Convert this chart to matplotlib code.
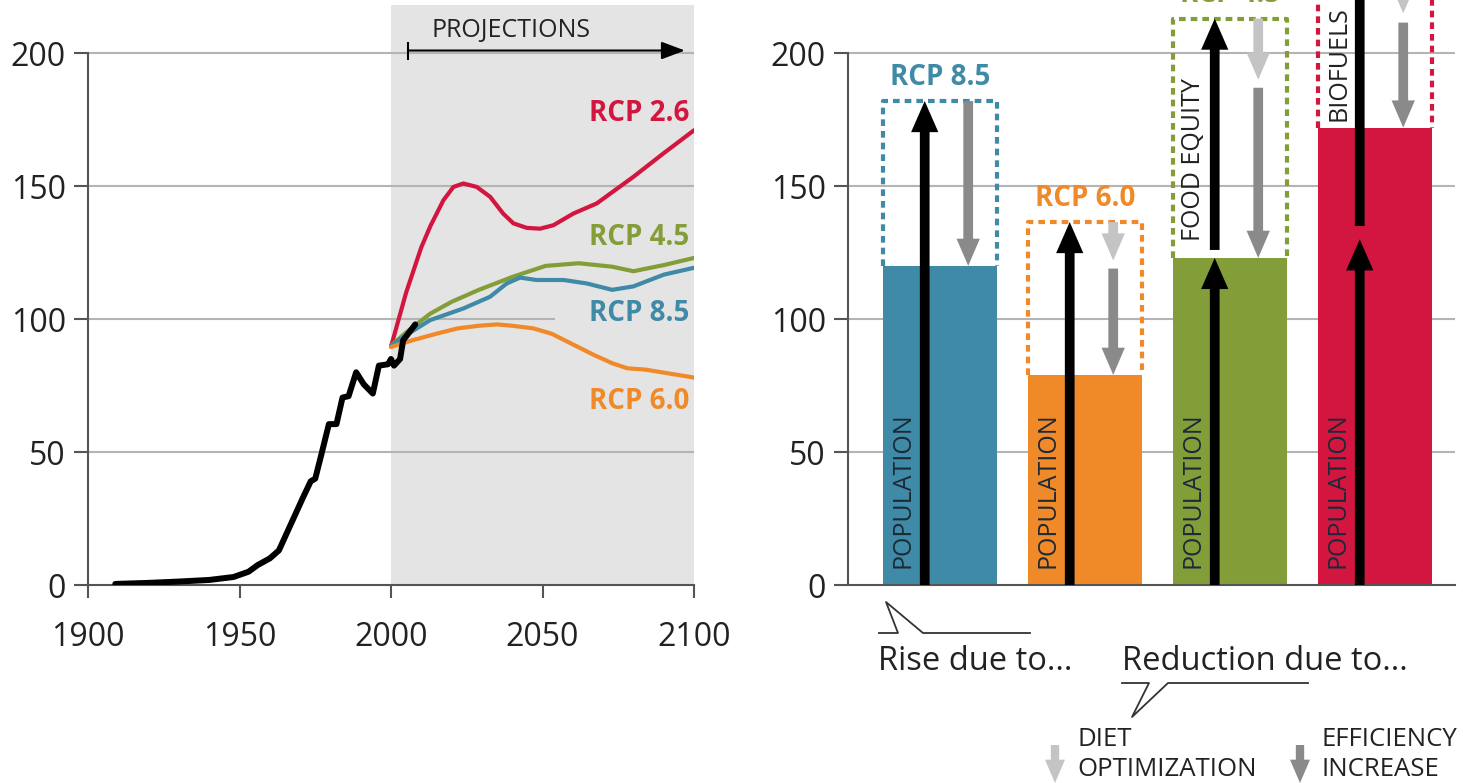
import matplotlib
matplotlib.use("Agg")
import matplotlib.pyplot as plt

plt.rcParams['font.family'] = ['Open Sans', 'DejaVu Sans']

# historical (black) series
hist_year = [1909, 1920, 1930, 1940, 1948, 1953, 1956, 1960, 1963, 1967, 1971, 1973.5, 1975, 1977,
             1979.5, 1982, 1984, 1986, 1988.5, 1991, 1994, 1996, 1999, 2000, 2001, 2003, 2004, 2008]
hist_val = [0.4, 0.8, 1.3, 1.9, 3, 5, 7.5, 10, 13, 23, 33, 39, 40, 49,
            60.5, 60.5, 70.5, 71, 80, 75.5, 72, 82.5, 83, 85, 82.5, 85, 92, 98]

# projections
rcp26_year = [2000, 2005, 2010, 2013, 2017.3, 2020.6, 2023.9, 2028.3, 2032.7, 2037, 2040.4, 2044.8,
              2049.2, 2053.6, 2060.2, 2067.9, 2080, 2089.9, 2100]
rcp26_val = [89.6, 110, 127, 135, 144.7, 149.7, 151, 149.7, 146, 139.7, 136, 134.3,
             134, 135.3, 139.7, 143.5, 153.5, 162.3, 171]
rcp45_year = [2000, 2005, 2012.9, 2020, 2029, 2040.4, 2051, 2062, 2073, 2080, 2090, 2100]
rcp45_val = [90, 95, 102, 106.5, 111, 116, 120, 121, 119.7, 118, 120.3, 123]
rcp85_year = [2000, 2005, 2012.9, 2023.9, 2032.7, 2038.2, 2042.6, 2048, 2057, 2064.6, 2073, 2080, 2090, 2100]
rcp85_val = [90, 94, 99.6, 104, 108.4, 113.4, 115.6, 114.7, 114.7, 113.4, 111, 112.3, 116.7, 119.3]
rcp60_year = [2000, 2007, 2015, 2022, 2029, 2035, 2040, 2047, 2053, 2060, 2067, 2073, 2078, 2084, 2092, 2100]
rcp60_val = [89.5, 92, 94.5, 96.5, 97.5, 98, 97.5, 96.5, 94.5, 90.5, 86.5, 83.4, 81.5, 81, 79.5, 78]

# right panel
scenarios = ['RCP 8.5', 'RCP 6.0', 'RCP 4.5', 'RCP 2.6']
bar_height = [120, 79, 123, 172]
box_top = [182, 136.5, 213, 236]
pop_arrow = [(0, 182), (0, 136.5), (0, 123), (0, 130)]
extra_arrow = [None, None, (126, 213), (135, 240)]
extra_label = [None, None, 'FOOD EQUITY', 'BIOFUELS']
extra_label_y = [None, None, 129.5, 174.5]
diet_arrow = [None, (136.5, 122), (213, 190), (236, 215)]
eff_arrow = [(182, 120), (119, 79), (187, 123), (211.5, 172)]

colors = ['#3f8aa6', '#f08a28', '#839e38', '#d2163f']
line_col = {'RCP 2.6': '#d2163f', 'RCP 4.5': '#839e38', 'RCP 8.5': '#3f8aa6', 'RCP 6.0': '#f08a28'}
W, H = 1463, 783
GRID = '#b4b4b4'
SPINE = '#555555'
TXT = '#222222'


def fx(x, y):
    return x / W, 1 - y / H


fig = plt.figure(figsize=(W / 100, H / 100), dpi=100)
ax1 = fig.add_axes([88 / W, 198 / H, 606 / W, 585 / H])
ax2 = fig.add_axes([848 / W, 198 / H, 607 / W, 585 / H])

for ax in (ax1, ax2):
    ax.set_ylim(0, 220)
    for s in ('top', 'right'):
        ax.spines[s].set_visible(False)
    for s in ('left', 'bottom'):
        ax.spines[s].set_color(SPINE)
        ax.spines[s].set_linewidth(1.5)
    ax.spines['left'].set_bounds(0, 200)
    ax.set_yticks([0, 50, 100, 150, 200])
    ax.tick_params(axis='y', length=10, width=1.5, color=SPINE, pad=6, labelsize=23, labelcolor=TXT)

# ---- left panel
ax1.set_xlim(1900, 2100)
ax1.axvspan(2000, 2100, ymax=218 / 220, color='#e4e4e4', lw=0, zorder=0)
for g in (50, 150, 200):
    ax1.axhline(g, color=GRID, lw=1.5, zorder=1)
ax1.hlines(100, 1900, 2054, color=GRID, lw=1.5, zorder=1)
ax1.set_xticks([1900, 1950, 2000, 2050, 2100])
ax1.tick_params(axis='x', length=9, width=1.5, color=SPINE, pad=17, labelsize=23, labelcolor=TXT)

kw = dict(lw=3, zorder=3, solid_capstyle='round', solid_joinstyle='round')
ax1.plot(rcp26_year, rcp26_val, color=line_col['RCP 2.6'], **kw)
ax1.plot(rcp45_year, rcp45_val, color=line_col['RCP 4.5'], **kw)
ax1.plot(rcp85_year, rcp85_val, color=line_col['RCP 8.5'], **kw)
ax1.plot(rcp60_year, rcp60_val, color=line_col['RCP 6.0'], **kw)
ax1.plot(hist_year, hist_val, color='black', lw=4.3, zorder=4, solid_capstyle='round', solid_joinstyle='round')

for name, yv in [('RCP 2.6', 177.4), ('RCP 4.5', 130.5), ('RCP 8.5', 102), ('RCP 6.0', 69)]:
    ax1.text(2098.5, yv, name, color=line_col[name], fontsize=20, fontweight='bold', ha='right', va='center')

ax1.annotate('', xy=(2097, 201), xytext=(2005.6, 201),
             arrowprops=dict(arrowstyle='-|>,head_length=0.8,head_width=0.3', color='black', lw=1.5,
                             shrinkA=0, shrinkB=0, mutation_scale=18))
ax1.plot([2005.6, 2005.6], [198, 204], color='black', lw=1.5)
ax1.text(2039.6, 208.5, 'PROJECTIONS', fontsize=18, ha='center', va='center', color=TXT)

# ---- right panel
ax2.set_xlim(-0.634, 3.552)
ax2.set_xticks([])
for g in (50, 100, 150, 200):
    ax2.axhline(g, color=GRID, lw=1.5, zorder=0)

bw = 0.786
xs = range(len(scenarios))
ax2.bar(xs, bar_height, width=bw, color=colors, zorder=2)


def arrow(ax, x, y0, y1, color, tw=0.25, hw=0.7, hl=0.8):
    ax.annotate('', xy=(x, y1), xytext=(x, y0), annotation_clip=False,
                arrowprops=dict(arrowstyle=f'simple,head_length={hl},head_width={hw},tail_width={tw}',
                                color=color, lw=0, shrinkA=0, shrinkB=0, mutation_scale=28), zorder=5)


for i in xs:
    l, r = i - bw / 2, i + bw / 2
    ax2.plot([l, l, r, r], [bar_height[i], box_top[i], box_top[i], bar_height[i]], color=colors[i],
             lw=3, ls=(0, (1.6, 1.2)), zorder=3, clip_on=True)
    ax2.text(i, box_top[i] + 9, scenarios[i], color=colors[i], fontsize=20, fontweight='bold',
             ha='center', va='center')
    arrow(ax2, i - 0.105, pop_arrow[i][0], pop_arrow[i][1], 'black')
    if extra_arrow[i]:
        arrow(ax2, i - 0.105, extra_arrow[i][0], extra_arrow[i][1], 'black')
        ax2.text(i - 0.25, extra_label_y[i], extra_label[i], rotation=90, fontsize=18,
                 ha='center', va='bottom', color=TXT)
    if diet_arrow[i]:
        arrow(ax2, i + 0.195, diet_arrow[i][0], diet_arrow[i][1], '#c4c4c4', hw=0.6, hl=0.7)
    arrow(ax2, i + 0.195, eff_arrow[i][0], eff_arrow[i][1], '#8a8a8a', hw=0.6, hl=0.7)
    ax2.text(i - 0.255, 6.5, 'POPULATION', rotation=90, fontsize=18, ha='center', va='bottom',
             color='#1c2a38')

# ---- bottom callouts
def fig_line(pts, **kw):
    xs_, ys_ = zip(*[fx(x, y) for x, y in pts])
    fig.add_artist(plt.Line2D(xs_, ys_, transform=fig.transFigure, **kw))


fig_line([(879, 633), (898, 633), (886, 602), (923, 633), (1030, 633)], color='#333333', lw=1.3)
fig.text(*fx(878, 661), 'Rise due to...', fontsize=23.5, ha='left', va='center', color=TXT)
fig.text(*fx(1122, 661), 'Reduction due to...', fontsize=23.5, ha='left', va='center', color=TXT)
fig_line([(1122, 683), (1149, 683), (1132, 717), (1168, 683), (1308, 683)], color='#333333', lw=1.3)

for xa, col, l1, l2 in [(1055, '#c4c4c4', 'DIET', 'OPTIMIZATION'), (1300, '#8a8a8a', 'EFFICIENCY', 'INCREASE')]:
    fig.add_artist(plt.matplotlib.patches.FancyArrowPatch(
        fx(xa, 745), fx(xa, 783), transform=fig.transFigure,
        arrowstyle='simple,head_length=0.7,head_width=0.6,tail_width=0.25', mutation_scale=24,
        color=col, lw=0, shrinkA=0, shrinkB=0))
    fig.text(*fx(xa + 22, 740), l1, fontsize=18.5, ha='left', va='center', color=TXT)
    fig.text(*fx(xa + 22, 769), l2, fontsize=18.5, ha='left', va='center', color=TXT)

fig.savefig('out.png', dpi=100)
